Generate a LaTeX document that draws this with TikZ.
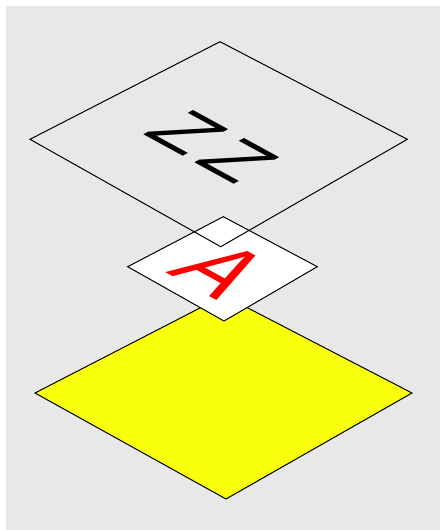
\documentclass[tikz,border=0pt]{standalone}
\usepackage{fontspec}
\setmainfont{Liberation Sans}
\definecolor{bggray}{RGB}{232,232,232}
\definecolor{plateyellow}{RGB}{249,255,12}
\begin{document}
\begin{tikzpicture}[x=1pt,y=-1pt,
  plate/.style={draw=black,line width=1pt,line join=miter},
  isoplane/.style={cm={0.878,-0.479,0.878,0.479,(0,0)}},
  zletter/.style={font=\fontsize{78}{78}\selectfont,text=black,inner sep=0pt,transform shape,xscale=1.05},
  aletter/.style={font=\fontsize{100}{100}\selectfont,text=red,inner sep=0pt,transform shape,xscale=0.88}]
\fill[white] (0,0) rectangle (440,530);
\fill[bggray] (6,6) rectangle (440,530);
\useasboundingbox (0,0) rectangle (440,530);
% bottom yellow plate
\coordinate (yT) at (224,295.6);
\coordinate (yR) at (412,393);
\coordinate (yB) at (226,499);
\coordinate (yL) at (35,393);
\draw[plate,fill=plateyellow] (yT) -- (yR) -- (yB) -- (yL) -- cycle;
% middle white plate
\coordinate (mT) at (223.3,216.7);
\coordinate (mR) at (317.3,266.7);
\coordinate (mB) at (224,321);
\coordinate (mL) at (127.7,266.7);
\draw[plate,fill=white] (mT) -- (mR) -- (mB) -- (mL) -- cycle;
\begin{scope}[shift={(221,270)},isoplane]
  \node[aletter] (A) at (0,0) {A};
\end{scope}
% top transparent plate
\coordinate (tT) at (220,41.7);
\coordinate (tR) at (407.3,139.3);
\coordinate (tB) at (220.7,246.7);
\coordinate (tL) at (30,139.3);
\draw[plate] (tT) -- (tR) -- (tB) -- (tL) -- cycle;
\begin{scope}[shift={(212.5,147)},isoplane]
  \node[zletter] (ZZ) at (0,0) {Z\kern7.6pt Z};
\end{scope}
\end{tikzpicture}
\end{document}
